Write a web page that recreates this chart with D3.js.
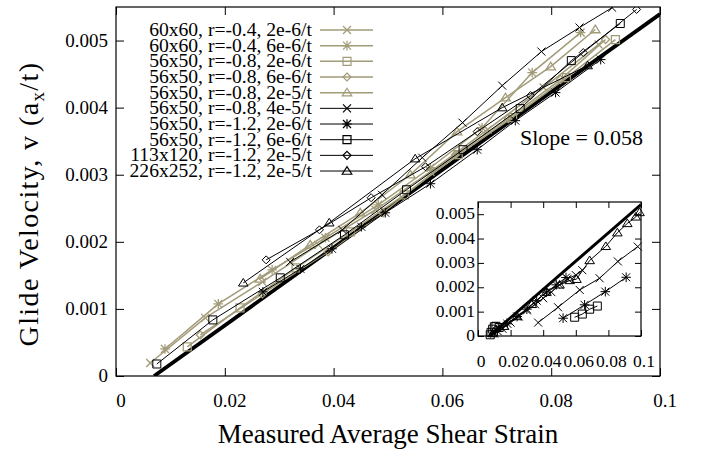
<!DOCTYPE html>
<html>
<head>
<meta charset="utf-8">
<script src="https://cdn.jsdelivr.net/npm/d3@7"></script>
<style>
  body { margin: 0; background: #fff; }
  svg { font-family: "Liberation Serif", "Times New Roman", serif; }
</style>
</head>
<body>
<svg id="chart" width="705" height="453"></svg>
<script>
// x: measured average shear strain, v: glide velocity (a_x/t)
var xTicks = [0, 0.02, 0.04, 0.06, 0.08, 0.1];
var yTicks = [0, 0.001, 0.002, 0.003, 0.004, 0.005];
var xTickLabels = ['0', '0.02', '0.04', '0.06', '0.08', '0.1'];
var yTickLabels = ['0', '0.001', '0.002', '0.003', '0.004', '0.005'];

var seriesNames = [
  '60x60, r=-0.4, 2e-6/t',
  '60x60, r=-0.4, 6e-6/t',
  '56x50, r=-0.8, 2e-6/t',
  '56x50, r=-0.8, 6e-6/t',
  '56x50, r=-0.8, 2e-5/t',
  '56x50, r=-0.8, 4e-5/t',
  '56x50, r=-1.2, 2e-6/t',
  '56x50, r=-1.2, 6e-6/t',
  '113x120, r=-1.2, 2e-5/t',
  '226x252, r=-1.2, 2e-5/t'
];
var seriesMarkers = ['cross', 'star', 'square', 'diamond', 'triangle',
                     'cross', 'star', 'square', 'diamond', 'triangle'];
var seriesColors = ['gold', 'gold', 'gold', 'gold', 'gold',
                    'black', 'black', 'black', 'black', 'black'];

var s60r04a = [[0.0063, 0.000194], [0.0164, 0.000866], [0.0269, 0.001403], [0.0372, 0.001955],
  [0.0477, 0.002478], [0.0578, 0.003045], [0.0683, 0.003672], [0.0786, 0.004299], [0.0887, 0.00494]];
var s60r04b = [[0.0090, 0.000403], [0.0188, 0.001075], [0.0287, 0.001582], [0.0385, 0.00206],
  [0.0482, 0.002552], [0.0578, 0.003104], [0.0673, 0.003701], [0.0765, 0.004522], [0.0854, 0.005119]];
var s56r08a = [[0.0131, 0.000433], [0.0228, 0.001015], [0.0331, 0.001612], [0.0431, 0.002149],
  [0.0530, 0.002701], [0.0629, 0.003299], [0.0729, 0.003851], [0.0828, 0.004448], [0.0918, 0.005015]];
var s56r08b = [[0.0155, 0.000612], [0.0269, 0.001224], [0.0390, 0.001851], [0.0491, 0.002433],
  [0.0624, 0.003299], [0.0721, 0.003836], [0.0817, 0.004418], [0.0900, 0.005015]];
var s56r08c = [[0.0265, 0.001448], [0.0357, 0.001955], [0.0449, 0.002433], [0.0541, 0.003],
  [0.0627, 0.003642], [0.0716, 0.004149], [0.0799, 0.004612], [0.0881, 0.005164]];
var s56r08d = [[0.0320, 0.001701], [0.0416, 0.002179], [0.0489, 0.002701], [0.0563, 0.003254],
  [0.0637, 0.003776], [0.0710, 0.004328], [0.0782, 0.004836], [0.0852, 0.005194], [0.0912, 0.00549]];
var s56r12a = [[0.0270, 0.001254], [0.0339, 0.001597], [0.0397, 0.001896], [0.0451, 0.002224],
  [0.0495, 0.002433], [0.0578, 0.002866], [0.0664, 0.003373], [0.0734, 0.003806], [0.0808, 0.004224], [0.0891, 0.004716]];
var s56r12b = [[0.0075, 0.000179], [0.0178, 0.000836], [0.0302, 0.001463], [0.0420, 0.002104],
  [0.0534, 0.002776], [0.0638, 0.003373], [0.0743, 0.003985], [0.0837, 0.004701], [0.0927, 0.005254]];
var s113 = [[0.0276, 0.001731], [0.0374, 0.002179], [0.0469, 0.002657], [0.0569, 0.003119],
  [0.0664, 0.003642], [0.0762, 0.004179], [0.0859, 0.004821], [0.0957, 0.005463]];
var s226 = [[0.0234, 0.001388], [0.0392, 0.002284], [0.0550, 0.003239], [0.0710, 0.004], [0.0867, 0.004627]];

var allSeries = [s60r04a, s60r04b, s56r08a, s56r08b, s56r08c, s56r08d, s56r12a, s56r12b, s113, s226];

// fitted line v = slope * (strain - strain0)
var fitSlope = 0.058;
var fitStrain0 = 0.007;
var fitLabel = 'Slope = 0.058';

// inset: same quantities over the full strain range
var insetTriangles = [[0.0090, 0.0001], [0.0160, 0.0004], [0.0240, 0.0008], [0.0330, 0.0013],
  [0.0420, 0.0018], [0.0500, 0.0021], [0.0563, 0.00228], [0.0604, 0.00233], [0.0685, 0.0031],
  [0.0784, 0.00368], [0.0855, 0.00424], [0.0916, 0.00462], [0.0968, 0.00489], [0.0991, 0.00507]];
var insetCrosses = [[0.0369, 0.00055], [0.0491, 0.00118], [0.0624, 0.00189], [0.0746, 0.00237],
  [0.0858, 0.00306], [0.0980, 0.00367]];
var insetStars = [[0.0522, 0.00073], [0.0654, 0.00128], [0.0781, 0.00182], [0.0909, 0.00241]];
var insetSquares = [[0.0593, 0.00077], [0.0640, 0.0009], [0.0685, 0.0011], [0.0732, 0.00123]];
var insetClusterCross = [[0.0100, 0.0001], [0.0150, 0.0003], [0.0200, 0.00055], [0.0250, 0.0008],
  [0.0300, 0.00105], [0.0350, 0.0013], [0.0400, 0.00155], [0.0450, 0.0018], [0.0500, 0.0021],
  [0.0550, 0.00235], [0.0600, 0.0025], [0.0640, 0.0027]];
var insetClusterStar = [[0.0120, 0.0002], [0.0180, 0.0005], [0.0240, 0.0008], [0.0300, 0.0011],
  [0.0360, 0.00145], [0.0420, 0.0018], [0.0480, 0.0021], [0.0540, 0.0024]];
var insetClusterSquare = [[0.0075, 0.00005], [0.0080, 0.00015], [0.0090, 0.00028], [0.0100, 0.00038],
  [0.0110, 0.0004], [0.0130, 0.00035]];
var insetXTickLabels = ['0', '0.02', '0.04', '0.06', '0.08', '0.1'];

var GOLD = '#a19b79';

var svg = d3.select('#chart');

function markerPath(type, s) {
  if (type === 'cross') return 'M' + -s + ',' + -s + 'L' + s + ',' + s + 'M' + -s + ',' + s + 'L' + s + ',' + -s;
  if (type === 'star') return 'M' + -s + ',' + -s + 'L' + s + ',' + s + 'M' + -s + ',' + s + 'L' + s + ',' + -s +
    'M' + -s * 1.2 + ',0H' + s * 1.2 + 'M0,' + -s * 1.2 + 'V' + s * 1.2;
  if (type === 'square') return 'M' + -s + ',' + -s + 'H' + s + 'V' + s + 'H' + -s + 'Z';
  if (type === 'diamond') return 'M0,' + -s + 'L' + s + ',0L0,' + s + 'L' + -s + ',0Z';
  if (type === 'triangle') return 'M0,' + -s * 1.1 + 'L' + s * 1.2 + ',' + s * 0.8 + 'L' + -s * 1.2 + ',' + s * 0.8 + 'Z';
  return '';
}

// ---------- main plot ----------
var mLeft = 116, mRight = 660, mTop = 7, mBottom = 376;
var x = d3.scaleLinear().domain([0, 0.1]).range([mLeft, mRight]);
var y = d3.scaleLinear().domain([0, 0.0055]).range([mBottom, mTop]);

svg.append('defs').append('clipPath').attr('id', 'clipMain')
  .append('rect').attr('x', mLeft).attr('y', mTop).attr('width', mRight - mLeft).attr('height', mBottom - mTop);

var line = d3.line().x(function(d) { return x(d[0]) }).y(function(d) { return y(d[1]) });

var plot = svg.append('g').attr('clip-path', 'url(#clipMain)');

// fit line
plot.append('path')
  .datum([[fitStrain0, 0], [0.1, fitSlope * (0.1 - fitStrain0)]])
  .attr('fill', 'none').attr('stroke', '#000').attr('stroke-width', 3.8)
  .attr('d', line);

allSeries.forEach(function(data, i) {
  var col = seriesColors[i] === 'gold' ? GOLD : '#000';
  var g = plot.append('g');
  g.append('path').datum(data)
    .attr('fill', 'none').attr('stroke', col).attr('stroke-width', seriesColors[i] === 'gold' ? 1.5 : 1)
    .attr('d', line);
  g.selectAll('path.pt').data(data).enter().append('path')
    .attr('class', 'pt')
    .attr('transform', function(d) { return 'translate(' + x(d[0]) + ',' + y(d[1]) + ')' })
    .attr('d', markerPath(seriesMarkers[i], 4))
    .attr('fill', 'none').attr('stroke', col).attr('stroke-width', seriesColors[i] === 'gold' ? 1.3 : 1);
});

// axes (ticks inward, mirrored)
var axes = svg.append('g');
axes.append('g').attr('transform', 'translate(0,' + mBottom + ')')
  .call(d3.axisBottom(x).tickValues(xTicks).tickSizeInner(-8).tickSizeOuter(0).tickFormat(''));
axes.append('g').attr('transform', 'translate(0,' + mTop + ')')
  .call(d3.axisTop(x).tickValues(xTicks).tickSizeInner(-8).tickSizeOuter(0).tickFormat(''));
axes.append('g').attr('transform', 'translate(' + mLeft + ',0)')
  .call(d3.axisLeft(y).tickValues(yTicks).tickSizeInner(-8).tickSizeOuter(0).tickFormat(''));
axes.append('g').attr('transform', 'translate(' + mRight + ',0)')
  .call(d3.axisRight(y).tickValues(yTicks).tickSizeInner(-8).tickSizeOuter(0).tickFormat(''));
axes.selectAll('.domain').remove();
axes.selectAll('.tick text').remove();
axes.selectAll('.tick line').attr('stroke', '#000');
axes.append('rect').attr('x', mLeft).attr('y', mTop).attr('width', mRight - mLeft).attr('height', mBottom - mTop)
  .attr('fill', 'none').attr('stroke', '#000').attr('stroke-width', 1.2);

svg.append('g').selectAll('text').data(xTicks).enter().append('text')
  .attr('x', function(d) { return x(d) + 5 })
  .attr('y', 407)
  .attr('text-anchor', 'middle').attr('font-size', 19)
  .text(function(d, i) { return xTickLabels[i] });
svg.append('g').selectAll('text').data(yTicks).enter().append('text')
  .attr('x', 108)
  .attr('y', function(d) { return y(d) + 6 })
  .attr('text-anchor', 'end').attr('font-size', 19)
  .text(function(d, i) { return yTickLabels[i] });

svg.append('text').attr('x', 388).attr('y', 443).attr('text-anchor', 'middle').attr('font-size', 27)
  .text('Measured Average Shear Strain');
var yTitle = svg.append('text').attr('transform', 'translate(38,204) rotate(-90)')
  .attr('text-anchor', 'middle').attr('font-size', 28).attr('letter-spacing', 1.4);
yTitle.append('tspan').text('Glide Velocity, v (a');
yTitle.append('tspan').attr('font-size', 19).attr('dy', 6).text('x');
yTitle.append('tspan').attr('dy', -6).text('/t)');

svg.append('text').attr('x', 520).attr('y', 145).attr('font-size', 22).text(fitLabel);

// legend
var legend = svg.append('g');
seriesNames.forEach(function(name, i) {
  var ly = 30 + i * 15.67;
  var col = seriesColors[i] === 'gold' ? GOLD : '#000';
  legend.append('text').attr('x', 312).attr('y', ly + 6).attr('text-anchor', 'end')
    .attr('font-size', 19.6).text(name);
  legend.append('line').attr('x1', 320).attr('x2', 373).attr('y1', ly).attr('y2', ly)
    .attr('stroke', col).attr('stroke-width', seriesColors[i] === 'gold' ? 1.5 : 1);
  legend.append('path').attr('transform', 'translate(347,' + ly + ')')
    .attr('d', markerPath(seriesMarkers[i], 4))
    .attr('fill', 'none').attr('stroke', col).attr('stroke-width', 1.2);
});

// ---------- inset ----------
var iL = 478, iR = 641, iT = 202, iB = 336;
var ix = d3.scaleLinear().domain([0, 0.1]).range([iL, iR]);
var iy = d3.scaleLinear().domain([0, 0.0055]).range([iB, iT]);
var iline = d3.line().x(function(d) { return ix(d[0]) }).y(function(d) { return iy(d[1]) });

svg.append('rect').attr('x', iL).attr('y', iT).attr('width', iR - iL).attr('height', iB - iT).attr('fill', '#fff');
svg.select('defs').append('clipPath').attr('id', 'clipInset')
  .append('rect').attr('x', iL).attr('y', iT).attr('width', iR - iL).attr('height', iB - iT);
var inset = svg.append('g').attr('clip-path', 'url(#clipInset)');

inset.append('path')
  .datum([[fitStrain0, 0], [0.1, fitSlope * (0.1 - fitStrain0)]])
  .attr('fill', 'none').attr('stroke', '#000').attr('stroke-width', 3)
  .attr('d', iline);

var insetSets = [
  [insetTriangles, 'triangle'], [insetCrosses, 'cross'], [insetStars, 'star'], [insetSquares, 'square'],
  [insetClusterCross, 'cross'], [insetClusterStar, 'star'], [insetClusterSquare, 'square']
];
insetSets.forEach(function(s) {
  var g = svg.append('g');
  g.append('path').datum(s[0]).attr('fill', 'none').attr('stroke', '#000').attr('stroke-width', 1).attr('d', iline);
  g.selectAll('path.pt').data(s[0]).enter().append('path').attr('class', 'pt')
    .attr('transform', function(d) { return 'translate(' + ix(d[0]) + ',' + iy(d[1]) + ')' })
    .attr('d', markerPath(s[1], 4))
    .attr('fill', 'none').attr('stroke', '#000').attr('stroke-width', 1);
});

var insetAxes = svg.append('g');
insetAxes.append('g').attr('transform', 'translate(0,' + iB + ')')
  .call(d3.axisBottom(ix).tickValues(xTicks).tickSizeInner(-6).tickSizeOuter(0).tickFormat(''));
insetAxes.append('g').attr('transform', 'translate(0,' + iT + ')')
  .call(d3.axisTop(ix).tickValues(xTicks).tickSizeInner(-6).tickSizeOuter(0).tickFormat(''));
insetAxes.append('g').attr('transform', 'translate(' + iL + ',0)')
  .call(d3.axisLeft(iy).tickValues(yTicks).tickSizeInner(-6).tickSizeOuter(0).tickFormat(''));
insetAxes.append('g').attr('transform', 'translate(' + iR + ',0)')
  .call(d3.axisRight(iy).tickValues(yTicks).tickSizeInner(-6).tickSizeOuter(0).tickFormat(''));
insetAxes.selectAll('.domain').remove();
insetAxes.selectAll('.tick text').remove();
insetAxes.selectAll('.tick line').attr('stroke', '#000');
insetAxes.append('rect').attr('x', iL).attr('y', iT).attr('width', iR - iL).attr('height', iB - iT)
  .attr('fill', 'none').attr('stroke', '#000').attr('stroke-width', 1.2);

insetAxes.selectAll('text.xl').data(xTicks).enter().append('text')
  .attr('x', function(d) { return ix(d) + 3 })
  .attr('y', 367).attr('text-anchor', 'middle').attr('font-size', 17.5)
  .text(function(d, i) { return insetXTickLabels[i] });
insetAxes.selectAll('text.yl').data(yTicks).enter().append('text')
  .attr('x', 475).attr('y', function(d) { return iy(d) + 5 })
  .attr('text-anchor', 'end').attr('font-size', 17.5)
  .text(function(d, i) { return yTickLabels[i] });
</script>
</body>
</html>
